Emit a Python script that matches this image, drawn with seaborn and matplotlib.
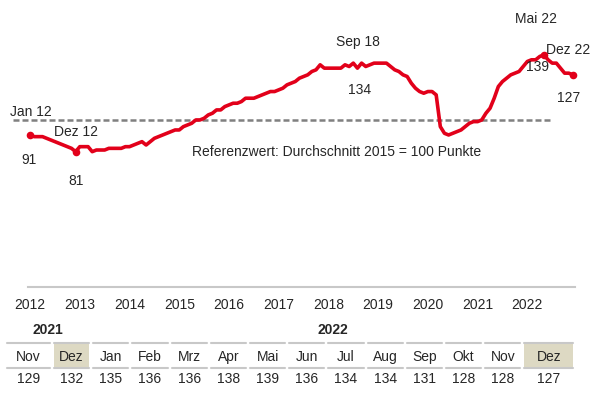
import numpy as np
import pandas as pd
import seaborn as sns
import matplotlib.pyplot as plt

# Monatswerte Jan 2012 - Dez 2022 (Index, 2015 = 100)
werte_2012 = [91, 90, 90, 90, 89, 88, 87, 86, 85, 84, 83, 81]
werte_2013 = [84, 84, 84, 81, 82, 82, 82, 83, 83, 83, 83, 84]
werte_2014 = [84, 85, 86, 87, 85, 87, 89, 90, 91, 92, 93, 94]
werte_2015 = [94, 96, 97, 98, 100, 100, 101, 103, 104, 106, 106, 108]
werte_2016 = [109, 110, 110, 111, 113, 113, 113, 114, 115, 116, 117, 117]
werte_2017 = [118, 119, 121, 122, 123, 125, 126, 127, 129, 130, 133, 131]
werte_2018 = [131, 131, 131, 131, 133, 132, 134, 131, 134, 132, 133, 134]
werte_2019 = [134, 134, 134, 132, 130, 129, 127, 126, 122, 119, 117, 116]
werte_2020 = [117, 117, 115, 96, 92, 91, 92, 93, 94, 96, 98, 99]
werte_2021 = [99, 100, 104, 107, 113, 120, 123, 125, 127, 128, 129, 132]
werte_2022 = [135, 136, 136, 138, 139, 136, 134, 134, 131, 128, 128, 127]

jahre = [str(j) for j in range(2012, 2023)]

# Tabelle unten
tab_monate = ["Nov", "Dez", "Jan", "Feb", "Mrz", "Apr", "Mai", "Jun",
              "Jul", "Aug", "Sep", "Okt", "Nov", "Dez"]
tab_werte = [129, 132, 135, 136, 136, 138, 139, 136, 134, 134, 131, 128, 128, 127]
tab_markiert = [1, 13]

# Beschriftete Punkte: (Monatsindex, Label, Offset Label, Offset Wert)
punkte = [
    (0, "Jan 12", (0.7, 16.5), (-0.7, -18)),
    (11, "Dez 12", (0, 14.5), (0, -21)),
    (80, "Sep 18", (-2.9, 15), (-1.4, -19)),
    (124, "Mai 22", (-5.8, 26), (-4.3, -9)),
    (131, "Dez 22", (-3.6, 18), (-2.9, -16.5)),
]
marker_idx = [0, 11, 124, 131]

rot = "#E2001A"
grau = "#808080"

alle = (werte_2012 + werte_2013 + werte_2014 + werte_2015 + werte_2016 + werte_2017
        + werte_2018 + werte_2019 + werte_2020 + werte_2021 + werte_2022)
df = pd.DataFrame({"monat": np.arange(len(alle)), "wert": alle})

sns.set_style("white")
plt.rcParams["font.family"] = ["Liberation Sans", "DejaVu Sans"]
plt.rcParams["font.size"] = 10

fig = plt.figure(figsize=(6, 3.95), dpi=100)
ax = fig.add_axes([28 / 600, 1 - 287 / 395, 547 / 600, 284 / 395])

ax.hlines(100, -4.0, 126, colors=grau, linestyles=(0, (2.4, 1.2)), lw=1.8,
          clip_on=False, zorder=1)
sns.lineplot(data=df, x="monat", y="wert", color=rot, lw=2.6, ax=ax, zorder=3)
for l in ax.lines:
    l.set_clip_on(False)
ax.scatter(marker_idx, [alle[i] for i in marker_idx], s=30, color=rot, zorder=4,
           linewidths=0, clip_on=False)

for i, label, off_l, off_w in punkte:
    ax.annotate(label, (i, alle[i]), xytext=off_l, textcoords="offset points",
                ha="center", va="center", fontsize=10)
    ax.annotate(str(alle[i]), (i, alle[i]), xytext=off_w, textcoords="offset points",
                ha="center", va="center", fontsize=10)

ax.text(39.1, 81.1, "Referenzwert: Durchschnitt 2015 = 100 Punkte",
        ha="left", va="center", fontsize=10)

ax.set_xlim(-0.5, 131.5)
ax.set_ylim(0, 170)
ax.set_xticks(np.arange(0, 132, 12))
ax.set_xticklabels(jahre)
ax.set_yticks([])
ax.set_xlabel("")
ax.set_ylabel("")
ax.tick_params(axis="x", length=0, pad=8, labelsize=10)
for s in ["top", "left", "right"]:
    ax.spines[s].set_visible(False)
ax.spines["bottom"].set_color("#C8C8C8")
ax.spines["bottom"].set_linewidth(1.5)

# Tabelle in Pixelkoordinaten
tx = fig.add_axes([0, 0, 1, 1], zorder=-1)
tx.set_xlim(0, 600)
tx.set_ylim(395, 0)
tx.axis("off")

kanten = [5] + [52 + 39.2 * k for k in range(13)] + [575]
for k, (m, w) in enumerate(zip(tab_monate, tab_werte)):
    l, r = kanten[k] + 2, kanten[k + 1] - 2
    if k in tab_markiert:
        tx.add_patch(plt.Rectangle((l, 344), r - l, 24, color="#DDD9C3", lw=0))
    tx.plot([l, r], [343, 343], color="#C8C8C8", lw=1.5)
    tx.plot([l, r], [368, 368], color="#C8C8C8", lw=1.5)
    c = (l + r) / 2
    tx.text(c, 357, m, ha="center", va="center", fontsize=10)
    tx.text(c, 379, str(w), ha="center", va="center", fontsize=10)

tx.text(48, 330, "2021", ha="center", va="center", fontsize=10, fontweight="bold")
tx.text(333, 330, "2022", ha="center", va="center", fontsize=10, fontweight="bold")

fig.savefig("out.png", dpi=100)
